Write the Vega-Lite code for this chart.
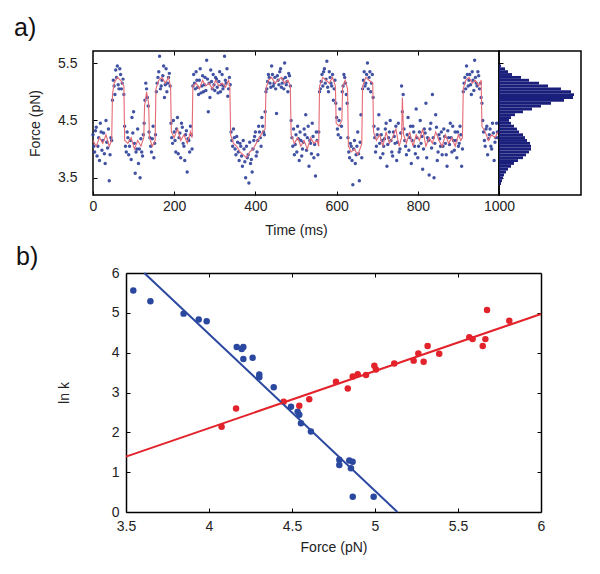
{
  "$schema": "https://vega.github.io/schema/vega-lite/v6.json",
  "padding": {"left": 13, "top": 14, "right": 5, "bottom": 5},
  "background": "white",
  "config": {
    "font": "Liberation Sans",
    "view": {"stroke": null},
    "axis": {"labelFont": "Liberation Sans", "titleFont": "Liberation Sans", "labelFontSize": 14, "titleFontSize": 14, "titleFontWeight": "normal", "labelColor": "#222", "titleColor": "#222", "tickColor": "#000", "domainColor": "#000", "grid": false}
  },
  "datasets": {
    "trace": [
      {"t":0,"f":4.25},{"t":4,"f":3.95},{"t":8,"f":4.38},{"t":12,"f":4.05},{"t":16,"f":3.80},{"t":20,"f":4.30},{"t":24,"f":4.15},{"t":28,"f":3.92},{"t":32,"f":4.50},{"t":36,"f":4.02},{"t":40,"f":3.45},{"t":44,"f":4.20},
      {"t":48,"f":4.85},{"t":52,"f":5.10},{"t":56,"f":5.38},{"t":60,"f":5.45},{"t":64,"f":5.05},{"t":68,"f":5.30},{"t":72,"f":5.15},{"t":76,"f":4.95},
      {"t":80,"f":4.05},{"t":84,"f":4.30},{"t":88,"f":3.90},{"t":92,"f":4.15},{"t":96,"f":4.55},{"t":100,"f":4.65},{"t":104,"f":3.58},{"t":108,"f":4.00},{"t":112,"f":3.75},{"t":116,"f":3.50},{"t":120,"f":3.95},{"t":124,"f":4.25},
      {"t":128,"f":4.85},{"t":132,"f":5.05},{"t":136,"f":4.75},
      {"t":140,"f":4.20},{"t":144,"f":3.95},{"t":148,"f":4.40},{"t":152,"f":4.10},
      {"t":156,"f":5.00},{"t":160,"f":5.25},{"t":164,"f":5.62},{"t":168,"f":5.10},{"t":172,"f":5.28},{"t":176,"f":4.90},{"t":180,"f":5.40},{"t":184,"f":5.15},{"t":188,"f":5.32},
      {"t":192,"f":4.45},{"t":196,"f":4.10},{"t":200,"f":4.30},{"t":204,"f":3.95},{"t":208,"f":4.55},{"t":212,"f":4.20},{"t":216,"f":3.85},{"t":220,"f":4.38},{"t":224,"f":4.05},{"t":228,"f":4.25},{"t":232,"f":3.60},{"t":236,"f":4.15},{"t":240,"f":4.40},{"t":244,"f":4.00},
      {"t":248,"f":5.30},{"t":252,"f":5.05},{"t":256,"f":5.20},{"t":260,"f":4.95},{"t":264,"f":5.40},{"t":268,"f":5.10},{"t":272,"f":5.00},{"t":276,"f":5.25},{"t":280,"f":5.55},{"t":284,"f":4.65},{"t":288,"f":4.90},{"t":292,"f":5.18},{"t":296,"f":5.30},{"t":300,"f":5.02},{"t":304,"f":5.22},{"t":308,"f":4.98},{"t":312,"f":5.35},{"t":316,"f":5.12},{"t":320,"f":5.05},{"t":324,"f":5.62},{"t":328,"f":5.15},{"t":332,"f":4.92},{"t":336,"f":5.25},
      {"t":340,"f":4.30},{"t":344,"f":4.05},{"t":348,"f":4.20},{"t":352,"f":3.90},{"t":356,"f":4.12},{"t":360,"f":3.80},{"t":364,"f":4.05},{"t":368,"f":3.70},{"t":372,"f":4.00},{"t":376,"f":3.50},{"t":380,"f":3.85},{"t":384,"f":3.41},{"t":388,"f":3.75},{"t":392,"f":3.60},{"t":396,"f":4.15},{"t":400,"f":4.30},{"t":404,"f":3.95},{"t":408,"f":4.40},{"t":412,"f":4.20},{"t":416,"f":4.55},{"t":420,"f":4.30},{"t":424,"f":4.65},
      {"t":428,"f":5.05},{"t":432,"f":5.30},{"t":436,"f":5.15},{"t":440,"f":5.45},{"t":444,"f":5.10},{"t":448,"f":5.25},{"t":452,"f":4.62},{"t":456,"f":5.20},{"t":460,"f":5.35},{"t":464,"f":5.08},{"t":468,"f":5.22},{"t":472,"f":5.50},{"t":476,"f":5.12},{"t":480,"f":5.00},{"t":484,"f":5.28},
      {"t":488,"f":4.50},{"t":492,"f":4.05},{"t":496,"f":3.90},{"t":500,"f":4.25},{"t":504,"f":4.40},{"t":508,"f":3.80},{"t":512,"f":4.15},{"t":516,"f":4.00},{"t":520,"f":4.35},{"t":524,"f":4.60},{"t":528,"f":4.20},{"t":532,"f":3.70},{"t":536,"f":4.10},{"t":540,"f":4.45},{"t":544,"f":3.85},{"t":548,"f":3.53},{"t":552,"f":4.15},{"t":556,"f":4.30},
      {"t":560,"f":5.05},{"t":564,"f":5.30},{"t":568,"f":5.35},{"t":572,"f":5.15},{"t":576,"f":5.53},{"t":580,"f":5.00},{"t":584,"f":5.25},{"t":588,"f":5.10},{"t":592,"f":4.85},{"t":596,"f":5.20},
      {"t":600,"f":4.55},{"t":604,"f":4.25},{"t":608,"f":4.70},{"t":612,"f":4.40},
      {"t":616,"f":5.10},{"t":620,"f":5.25},{"t":624,"f":4.95},
      {"t":628,"f":4.20},{"t":632,"f":3.85},{"t":636,"f":4.05},{"t":640,"f":3.38},{"t":644,"f":4.15},{"t":648,"f":3.90},{"t":652,"f":4.30},{"t":656,"f":3.45},{"t":660,"f":4.60},
      {"t":664,"f":5.05},{"t":668,"f":5.35},{"t":672,"f":5.15},{"t":676,"f":5.50},{"t":680,"f":5.25},{"t":684,"f":5.00},{"t":688,"f":5.30},
      {"t":692,"f":4.40},{"t":696,"f":3.95},{"t":700,"f":4.25},{"t":704,"f":4.60},{"t":708,"f":3.85},{"t":712,"f":4.15},{"t":716,"f":4.05},{"t":720,"f":4.35},{"t":724,"f":3.70},{"t":728,"f":4.20},{"t":732,"f":4.50},{"t":736,"f":3.95},{"t":740,"f":4.30},{"t":744,"f":4.10},{"t":748,"f":3.80},{"t":752,"f":4.45},{"t":756,"f":4.00},{"t":760,"f":5.10},{"t":764,"f":4.95},{"t":768,"f":4.15},{"t":772,"f":3.90},{"t":776,"f":4.55},{"t":780,"f":4.20},{"t":784,"f":3.75},{"t":788,"f":4.40},{"t":792,"f":4.05},{"t":796,"f":4.70},{"t":800,"f":3.85},{"t":804,"f":4.30},{"t":808,"f":4.10},{"t":812,"f":3.65},{"t":816,"f":4.35},{"t":820,"f":4.80},{"t":824,"f":4.20},{"t":828,"f":3.55},{"t":832,"f":4.45},{"t":836,"f":4.95},{"t":840,"f":3.50},{"t":844,"f":4.60},{"t":848,"f":3.80},{"t":852,"f":4.25},{"t":856,"f":4.05},{"t":860,"f":3.90},{"t":864,"f":4.35},{"t":868,"f":4.10},{"t":872,"f":3.70},{"t":876,"f":4.20},{"t":880,"f":4.45},{"t":884,"f":3.95},{"t":888,"f":4.15},{"t":892,"f":4.30},{"t":896,"f":3.85},{"t":900,"f":4.05},{"t":904,"f":4.40},{"t":908,"f":3.70},
      {"t":912,"f":5.00},{"t":916,"f":5.25},{"t":920,"f":5.45},{"t":924,"f":5.10},{"t":928,"f":5.30},{"t":932,"f":4.95},{"t":936,"f":5.20},{"t":940,"f":5.55},{"t":944,"f":5.15},{"t":948,"f":5.35},{"t":952,"f":5.05},{"t":956,"f":4.90},
      {"t":960,"f":4.50},{"t":964,"f":4.15},{"t":968,"f":4.35},{"t":972,"f":3.90},{"t":976,"f":4.25},{"t":980,"f":4.05},{"t":984,"f":4.45},{"t":988,"f":3.80},{"t":992,"f":4.20},{"t":996,"f":4.30},
      {"t":2,"f":4.05},{"t":6,"f":4.32},{"t":10,"f":3.88},{"t":14,"f":4.20},{"t":18,"f":4.45},{"t":22,"f":3.98},{"t":26,"f":4.28},{"t":30,"f":3.75},{"t":34,"f":4.12},{"t":38,"f":4.35},{"t":42,"f":3.90},{"t":46,"f":4.15},
      {"t":50,"f":5.20},{"t":54,"f":4.95},{"t":58,"f":5.25},{"t":62,"f":5.12},{"t":66,"f":5.40},{"t":70,"f":5.05},{"t":74,"f":5.22},
      {"t":78,"f":4.40},{"t":82,"f":3.95},{"t":86,"f":4.20},{"t":90,"f":4.05},{"t":94,"f":3.82},{"t":98,"f":4.28},{"t":102,"f":4.10},{"t":106,"f":3.95},{"t":110,"f":4.35},{"t":114,"f":4.00},{"t":118,"f":4.18},{"t":122,"f":3.88},{"t":126,"f":4.45},
      {"t":130,"f":5.15},{"t":134,"f":4.90},
      {"t":138,"f":4.30},{"t":142,"f":4.05},{"t":146,"f":4.18},{"t":150,"f":3.85},{"t":154,"f":4.25},
      {"t":158,"f":5.15},{"t":162,"f":5.35},{"t":166,"f":5.05},{"t":170,"f":5.20},{"t":174,"f":5.45},{"t":178,"f":5.12},{"t":182,"f":5.00},{"t":186,"f":5.25},{"t":190,"f":5.10},
      {"t":194,"f":4.20},{"t":198,"f":4.50},{"t":202,"f":4.15},{"t":206,"f":4.35},{"t":210,"f":3.92},{"t":214,"f":4.28},{"t":218,"f":4.45},{"t":222,"f":4.10},{"t":226,"f":3.80},{"t":230,"f":4.32},{"t":234,"f":4.18},{"t":238,"f":3.95},{"t":242,"f":4.25},
      {"t":246,"f":5.10},{"t":250,"f":5.15},{"t":254,"f":5.35},{"t":258,"f":5.08},{"t":262,"f":5.20},{"t":266,"f":4.98},{"t":270,"f":5.28},{"t":274,"f":5.12},{"t":278,"f":5.02},{"t":282,"f":5.22},{"t":286,"f":5.15},{"t":290,"f":5.38},{"t":294,"f":5.05},{"t":298,"f":5.12},{"t":302,"f":5.25},{"t":306,"f":5.08},{"t":310,"f":5.18},{"t":314,"f":5.00},{"t":318,"f":5.30},{"t":322,"f":5.10},{"t":326,"f":5.20},{"t":330,"f":5.40},{"t":334,"f":5.05},{"t":338,"f":5.12},
      {"t":342,"f":4.15},{"t":346,"f":4.35},{"t":350,"f":4.00},{"t":354,"f":4.22},{"t":358,"f":3.95},{"t":362,"f":4.10},{"t":366,"f":3.88},{"t":370,"f":4.15},{"t":374,"f":3.78},{"t":378,"f":4.05},{"t":382,"f":3.90},{"t":386,"f":4.12},{"t":390,"f":3.82},{"t":394,"f":4.00},{"t":398,"f":4.22},{"t":402,"f":3.88},{"t":406,"f":4.15},{"t":410,"f":4.30},{"t":414,"f":4.05},{"t":418,"f":4.40},{"t":422,"f":4.25},
      {"t":426,"f":5.00},{"t":430,"f":5.18},{"t":434,"f":5.25},{"t":438,"f":5.08},{"t":442,"f":5.30},{"t":446,"f":5.15},{"t":450,"f":5.05},{"t":454,"f":5.28},{"t":458,"f":5.12},{"t":462,"f":5.40},{"t":466,"f":5.15},{"t":470,"f":5.05},{"t":474,"f":5.25},{"t":478,"f":5.18},{"t":482,"f":5.32},{"t":486,"f":5.10},
      {"t":490,"f":4.20},{"t":494,"f":4.35},{"t":498,"f":4.08},{"t":502,"f":3.95},{"t":506,"f":4.18},{"t":510,"f":4.30},{"t":514,"f":3.88},{"t":518,"f":4.12},{"t":522,"f":4.25},{"t":526,"f":3.98},{"t":530,"f":4.40},{"t":534,"f":4.15},{"t":538,"f":3.92},{"t":542,"f":4.22},{"t":546,"f":4.08},{"t":550,"f":4.30},{"t":554,"f":3.90},
      {"t":558,"f":5.00},{"t":562,"f":5.18},{"t":566,"f":5.10},{"t":570,"f":5.40},{"t":574,"f":5.22},{"t":578,"f":5.08},{"t":582,"f":5.35},{"t":586,"f":5.15},{"t":590,"f":5.30},{"t":594,"f":5.05},
      {"t":598,"f":4.80},{"t":602,"f":4.35},{"t":606,"f":4.50},{"t":610,"f":4.20},
      {"t":614,"f":5.00},{"t":618,"f":5.30},{"t":622,"f":5.15},{"t":626,"f":4.80},
      {"t":630,"f":3.95},{"t":634,"f":4.10},{"t":638,"f":3.80},{"t":642,"f":4.00},{"t":646,"f":3.75},{"t":650,"f":4.05},{"t":654,"f":3.92},{"t":658,"f":4.12},{"t":662,"f":3.85},
      {"t":666,"f":5.20},{"t":670,"f":5.10},{"t":674,"f":5.30},{"t":678,"f":5.05},{"t":682,"f":5.35},{"t":686,"f":5.15},{"t":690,"f":4.90},
      {"t":694,"f":4.20},{"t":698,"f":4.05},{"t":702,"f":4.35},{"t":706,"f":4.10},{"t":710,"f":4.25},{"t":714,"f":3.92},{"t":718,"f":4.18},{"t":722,"f":4.45},{"t":726,"f":4.08},{"t":730,"f":4.30},{"t":734,"f":4.15},{"t":738,"f":3.88},{"t":742,"f":4.22},{"t":746,"f":4.40},{"t":750,"f":4.12},{"t":754,"f":3.95},{"t":758,"f":4.28},{"t":762,"f":4.65},{"t":766,"f":4.35},{"t":770,"f":4.05},{"t":774,"f":4.25},{"t":778,"f":3.98},{"t":782,"f":4.40},{"t":786,"f":4.15},{"t":790,"f":4.30},{"t":794,"f":3.92},{"t":798,"f":4.20},{"t":802,"f":4.05},{"t":806,"f":4.50},{"t":810,"f":4.22},{"t":814,"f":4.00},{"t":818,"f":4.28},{"t":822,"f":3.85},{"t":826,"f":4.15},{"t":830,"f":4.35},{"t":834,"f":4.02},{"t":838,"f":4.20},{"t":842,"f":4.10},{"t":846,"f":4.38},{"t":850,"f":3.95},{"t":854,"f":4.18},{"t":858,"f":4.30},{"t":862,"f":4.05},{"t":866,"f":4.22},{"t":870,"f":3.90},{"t":874,"f":4.32},{"t":878,"f":4.08},{"t":882,"f":4.20},{"t":886,"f":4.40},{"t":890,"f":3.98},{"t":894,"f":4.15},{"t":898,"f":4.30},{"t":902,"f":4.10},{"t":906,"f":4.25},{"t":910,"f":4.00},
      {"t":914,"f":5.15},{"t":918,"f":5.05},{"t":922,"f":5.30},{"t":926,"f":5.20},{"t":930,"f":5.12},{"t":934,"f":5.35},{"t":938,"f":5.02},{"t":942,"f":5.25},{"t":946,"f":5.10},{"t":950,"f":5.28},{"t":954,"f":5.15},
      {"t":958,"f":4.80},{"t":962,"f":4.30},{"t":966,"f":4.05},{"t":970,"f":4.40},{"t":974,"f":4.18},{"t":978,"f":4.35},{"t":982,"f":4.00},{"t":986,"f":4.28},{"t":990,"f":4.12},{"t":994,"f":4.45},{"t":998,"f":4.20}
    ],
    "fit": [
      {"t":0,"f":4.15},{"t":8,"f":4.05},{"t":16,"f":4.20},{"t":24,"f":4.10},{"t":32,"f":4.25},{"t":40,"f":4.05},{"t":46,"f":4.15},
      {"t":48,"f":4.95},{"t":52,"f":5.15},{"t":60,"f":5.25},{"t":68,"f":5.20},{"t":76,"f":5.10},
      {"t":78,"f":4.15},{"t":86,"f":4.10},{"t":94,"f":4.20},{"t":102,"f":4.00},{"t":110,"f":4.15},{"t":118,"f":4.05},{"t":125,"f":4.20},
      {"t":127,"f":4.75},{"t":132,"f":5.00},{"t":137,"f":4.80},
      {"t":139,"f":4.20},{"t":146,"f":4.05},{"t":153,"f":4.15},
      {"t":155,"f":5.05},{"t":162,"f":5.20},{"t":170,"f":5.25},{"t":178,"f":5.15},{"t":186,"f":5.25},{"t":191,"f":5.10},
      {"t":193,"f":4.30},{"t":200,"f":4.20},{"t":208,"f":4.35},{"t":216,"f":4.15},{"t":224,"f":4.25},{"t":232,"f":4.10},{"t":240,"f":4.30},{"t":244,"f":4.20},
      {"t":246,"f":5.10},{"t":254,"f":5.15},{"t":262,"f":5.05},{"t":270,"f":5.20},{"t":278,"f":5.10},{"t":286,"f":5.15},{"t":294,"f":5.05},{"t":302,"f":5.20},{"t":310,"f":5.10},{"t":318,"f":5.15},{"t":326,"f":5.08},{"t":334,"f":5.20},{"t":337,"f":5.10},
      {"t":339,"f":4.25},{"t":346,"f":4.10},{"t":354,"f":4.05},{"t":362,"f":3.95},{"t":370,"f":3.90},{"t":378,"f":3.85},{"t":386,"f":3.95},{"t":394,"f":4.00},{"t":402,"f":4.10},{"t":410,"f":4.20},{"t":418,"f":4.30},{"t":424,"f":4.35},
      {"t":426,"f":5.05},{"t":432,"f":5.20},{"t":440,"f":5.25},{"t":448,"f":5.15},{"t":456,"f":5.20},{"t":464,"f":5.25},{"t":472,"f":5.15},{"t":480,"f":5.20},{"t":486,"f":5.10},
      {"t":488,"f":4.25},{"t":496,"f":4.10},{"t":504,"f":4.20},{"t":512,"f":4.05},{"t":520,"f":4.15},{"t":528,"f":4.00},{"t":536,"f":4.20},{"t":544,"f":4.10},{"t":552,"f":4.15},{"t":556,"f":4.05},
      {"t":558,"f":5.10},{"t":566,"f":5.25},{"t":574,"f":5.20},{"t":582,"f":5.15},{"t":590,"f":5.25},{"t":597,"f":5.10},
      {"t":599,"f":4.45},{"t":606,"f":4.40},{"t":613,"f":4.50},
      {"t":615,"f":5.10},{"t":621,"f":5.20},{"t":627,"f":5.05},
      {"t":629,"f":4.05},{"t":636,"f":3.95},{"t":644,"f":4.00},{"t":652,"f":3.90},{"t":660,"f":4.05},{"t":662,"f":4.10},
      {"t":664,"f":5.10},{"t":672,"f":5.25},{"t":680,"f":5.20},{"t":689,"f":5.15},
      {"t":691,"f":4.30},{"t":698,"f":4.15},{"t":706,"f":4.25},{"t":714,"f":4.05},{"t":722,"f":4.30},{"t":730,"f":4.10},{"t":738,"f":4.20},{"t":746,"f":4.35},{"t":754,"f":4.05},{"t":760,"f":4.20},{"t":762,"f":4.90},{"t":765,"f":4.25},{"t":772,"f":4.10},{"t":780,"f":4.30},{"t":788,"f":4.05},{"t":796,"f":4.25},{"t":804,"f":4.15},{"t":812,"f":4.35},{"t":820,"f":4.05},{"t":828,"f":4.20},{"t":836,"f":4.10},{"t":844,"f":4.30},{"t":852,"f":4.15},{"t":860,"f":4.05},{"t":868,"f":4.25},{"t":876,"f":4.10},{"t":884,"f":4.20},{"t":892,"f":4.05},{"t":900,"f":4.25},{"t":906,"f":4.15},{"t":910,"f":4.20},
      {"t":912,"f":5.05},{"t":918,"f":5.20},{"t":926,"f":5.25},{"t":934,"f":5.15},{"t":942,"f":5.20},{"t":950,"f":5.10},{"t":956,"f":5.20},
      {"t":958,"f":4.40},{"t":966,"f":4.30},{"t":974,"f":4.15},{"t":982,"f":4.25},{"t":990,"f":4.20},{"t":998,"f":4.30}
    ],
    "hist": [
      {"lo":5.425,"hi":5.475,"count":2},{"lo":5.375,"hi":5.425,"count":6},{"lo":5.325,"hi":5.375,"count":9},{"lo":5.275,"hi":5.325,"count":13},{"lo":5.225,"hi":5.275,"count":22},{"lo":5.175,"hi":5.225,"count":30},{"lo":5.125,"hi":5.175,"count":40},{"lo":5.075,"hi":5.125,"count":49},{"lo":5.025,"hi":5.075,"count":62},{"lo":4.975,"hi":5.025,"count":72},{"lo":4.925,"hi":4.975,"count":75},{"lo":4.875,"hi":4.925,"count":74},{"lo":4.825,"hi":4.875,"count":65},{"lo":4.775,"hi":4.825,"count":52},{"lo":4.725,"hi":4.775,"count":42},{"lo":4.675,"hi":4.725,"count":33},{"lo":4.625,"hi":4.675,"count":24},{"lo":4.575,"hi":4.625,"count":16},{"lo":4.525,"hi":4.575,"count":12},{"lo":4.475,"hi":4.525,"count":10},{"lo":4.425,"hi":4.475,"count":12},{"lo":4.375,"hi":4.425,"count":15},{"lo":4.325,"hi":4.375,"count":18},{"lo":4.275,"hi":4.325,"count":20},{"lo":4.225,"hi":4.275,"count":24},{"lo":4.175,"hi":4.225,"count":26},{"lo":4.125,"hi":4.175,"count":28},{"lo":4.075,"hi":4.125,"count":31},{"lo":4.025,"hi":4.075,"count":32},{"lo":3.975,"hi":4.025,"count":32},{"lo":3.925,"hi":3.975,"count":30},{"lo":3.875,"hi":3.925,"count":27},{"lo":3.825,"hi":3.875,"count":24},{"lo":3.775,"hi":3.825,"count":19},{"lo":3.725,"hi":3.775,"count":15},{"lo":3.675,"hi":3.725,"count":12},{"lo":3.625,"hi":3.675,"count":9},{"lo":3.575,"hi":3.625,"count":7},{"lo":3.525,"hi":3.575,"count":5},{"lo":3.475,"hi":3.525,"count":4},{"lo":3.425,"hi":3.475,"count":3},{"lo":3.375,"hi":3.425,"count":2}
    ],
    "kin": [
      {"series":"blue","force":3.544,"lnk":5.56},{"series":"blue","force":3.647,"lnk":5.29},{"series":"blue","force":3.847,"lnk":4.98},{"series":"blue","force":3.938,"lnk":4.83},{"series":"blue","force":3.986,"lnk":4.79},{"series":"blue","force":4.167,"lnk":4.14},{"series":"blue","force":4.197,"lnk":4.09},{"series":"blue","force":4.207,"lnk":4.14},{"series":"blue","force":4.207,"lnk":3.84},{"series":"blue","force":4.263,"lnk":3.87},{"series":"blue","force":4.303,"lnk":3.45},{"series":"blue","force":4.303,"lnk":3.38},{"series":"blue","force":4.39,"lnk":3.13},{"series":"blue","force":4.494,"lnk":2.64},{"series":"blue","force":4.534,"lnk":2.52},{"series":"blue","force":4.544,"lnk":2.44},{"series":"blue","force":4.554,"lnk":2.23},{"series":"blue","force":4.614,"lnk":2.02},{"series":"blue","force":4.785,"lnk":1.31},{"series":"blue","force":4.785,"lnk":1.18},{"series":"blue","force":4.845,"lnk":1.29},{"series":"blue","force":4.855,"lnk":1.10},{"series":"blue","force":4.865,"lnk":1.26},{"series":"blue","force":4.866,"lnk":0.38},{"series":"blue","force":4.992,"lnk":0.38},
      {"series":"red","force":4.076,"lnk":2.14},{"series":"red","force":4.163,"lnk":2.60},{"series":"red","force":4.45,"lnk":2.77},{"series":"red","force":4.544,"lnk":2.67},{"series":"red","force":4.604,"lnk":2.83},{"series":"red","force":4.765,"lnk":3.27},{"series":"red","force":4.836,"lnk":3.10},{"series":"red","force":4.866,"lnk":3.40},{"series":"red","force":4.896,"lnk":3.46},{"series":"red","force":4.946,"lnk":3.44},{"series":"red","force":4.996,"lnk":3.67},{"series":"red","force":5.006,"lnk":3.58},{"series":"red","force":5.116,"lnk":3.73},{"series":"red","force":5.233,"lnk":3.80},{"series":"red","force":5.261,"lnk":3.98},{"series":"red","force":5.293,"lnk":3.77},{"series":"red","force":5.317,"lnk":4.17},{"series":"red","force":5.387,"lnk":3.97},{"series":"red","force":5.568,"lnk":4.39},{"series":"red","force":5.588,"lnk":4.34},{"series":"red","force":5.649,"lnk":4.17},{"series":"red","force":5.665,"lnk":4.34},{"series":"red","force":5.675,"lnk":5.07},{"series":"red","force":5.809,"lnk":4.80}
    ],
    "fits": [
      {"series":"blue","force":3.61,"lnk":6.0},{"series":"blue","force":5.135,"lnk":0.0},
      {"series":"red","force":3.5,"lnk":1.39},{"series":"red","force":6.0,"lnk":4.97}
    ]
  },
  "spacing": 7,
  "vconcat": [
    {
      "spacing": 0,
      "bounds": "flush",
      "hconcat": [
        {
          "width": 406, "height": 144,
          "title": {"text": "a)", "anchor": "start", "frame": "group", "dx": -79, "offset": -10, "fontSize": 25, "fontWeight": "normal", "baseline": "alphabetic", "color": "#111", "font": "Liberation Sans"},
          "view": {"stroke": "#000", "strokeWidth": 1.5},
          "layer": [
            {
              "data": {"name": "trace"},
              "mark": {"type": "point", "filled": true, "size": 12, "color": "#2c3f99", "opacity": 0.9},
              "encoding": {
                "x": {"field": "t", "type": "quantitative", "scale": {"domain": [0, 1000], "nice": false}, "axis": {"values": [0, 200, 400, 600, 800, 1000], "format": "d", "tickSize": -4, "labelPadding": 8, "domain": false, "title": "Time (ms)", "titlePadding": 10, "labelFlush": false}},
                "y": {"field": "f", "type": "quantitative", "scale": {"domain": [3.2, 5.71], "nice": false, "zero": false}, "axis": {"values": [3.5, 4, 4.5, 5, 5.5], "labelExpr": "datum.value == 4 || datum.value == 5 ? '' : datum.label", "tickSize": -4, "labelPadding": 20, "domain": false, "title": "Force (pN)", "titlePadding": 15, "labelFlush": false}}
              }
            },
            {
              "data": {"name": "fit"},
              "mark": {"type": "line", "color": "#e46a74", "strokeWidth": 1.1},
              "encoding": {
                "x": {"field": "t", "type": "quantitative", "axis": {"orient": "top", "labels": false, "tickSize": -4, "domain": false, "title": null, "values": [200, 400, 600, 800]}},
                "y": {"field": "f", "type": "quantitative", "title": "Force (pN)"}
              }
            }
          ],
          "resolve": {"axis": {"x": "independent"}}
        },
        {
          "width": 82, "height": 144,
          "view": {"stroke": "#000", "strokeWidth": 1.5},
          "data": {"name": "hist"},
          "mark": {"type": "rect", "color": "#1b1f7c"},
          "encoding": {
            "y": {"field": "lo", "type": "quantitative", "scale": {"domain": [3.2, 5.71], "nice": false, "zero": false}, "axis": {"values": [3.5, 4, 4.5, 5, 5.5], "labels": false, "tickSize": -4, "domain": false, "title": null}},
            "y2": {"field": "hi"},
            "x": {"field": "count", "type": "quantitative", "scale": {"domain": [0, 82], "nice": false}, "axis": null},
            "x2": {"datum": 0}
          }
        }
      ]
    },
    {
      "width": 448, "height": 239,
      "title": {"text": "b)", "anchor": "start", "frame": "group", "dx": -77, "offset": -24, "fontSize": 25, "fontWeight": "normal", "baseline": "alphabetic", "color": "#111", "font": "Liberation Sans"},
      "layer": [
        {
          "data": {"name": "kin"},
          "mark": {"type": "circle", "size": 42, "opacity": 1},
          "encoding": {
            "x": {"field": "force", "type": "quantitative", "scale": {"domain": [3.5, 6], "range": [33, 448], "nice": false, "zero": false}, "axis": {"values": [3.5, 4, 4.5, 5, 5.5, 6], "format": "~g", "tickSize": -4, "labelPadding": 11, "domainWidth": 1.5, "title": "Force (pN)", "titlePadding": 7, "labelFlush": false}},
            "y": {"field": "lnk", "type": "quantitative", "scale": {"domain": [0, 6], "nice": false}, "axis": {"values": [0, 1, 2, 3, 4, 5, 6], "tickSize": -4, "labelPadding": 11, "offset": -33, "domainWidth": 1.5, "title": "ln k", "titlePadding": 40, "labelFlush": false}},
            "color": {"field": "series", "type": "nominal", "scale": {"domain": ["blue", "red"], "range": ["#2a48a0", "#e3232b"]}, "legend": null}
          }
        },
        {
          "data": {"name": "fits"},
          "mark": {"type": "line", "strokeWidth": 2},
          "encoding": {
            "x": {"field": "force", "type": "quantitative", "axis": {"orient": "top", "labels": false, "tickSize": -4, "domainWidth": 1.5, "title": null, "values": [4, 4.5, 5, 5.5]}},
            "y": {"field": "lnk", "type": "quantitative", "axis": {"orient": "right", "labels": false, "tickSize": -4, "domainWidth": 1.5, "title": null, "values": [1, 2, 3, 4, 5]}},
            "color": {"field": "series", "type": "nominal", "legend": null},
            "detail": {"field": "series"}
          }
        }
      ],
      "resolve": {"axis": {"x": "independent", "y": "independent"}}
    }
  ]
}
